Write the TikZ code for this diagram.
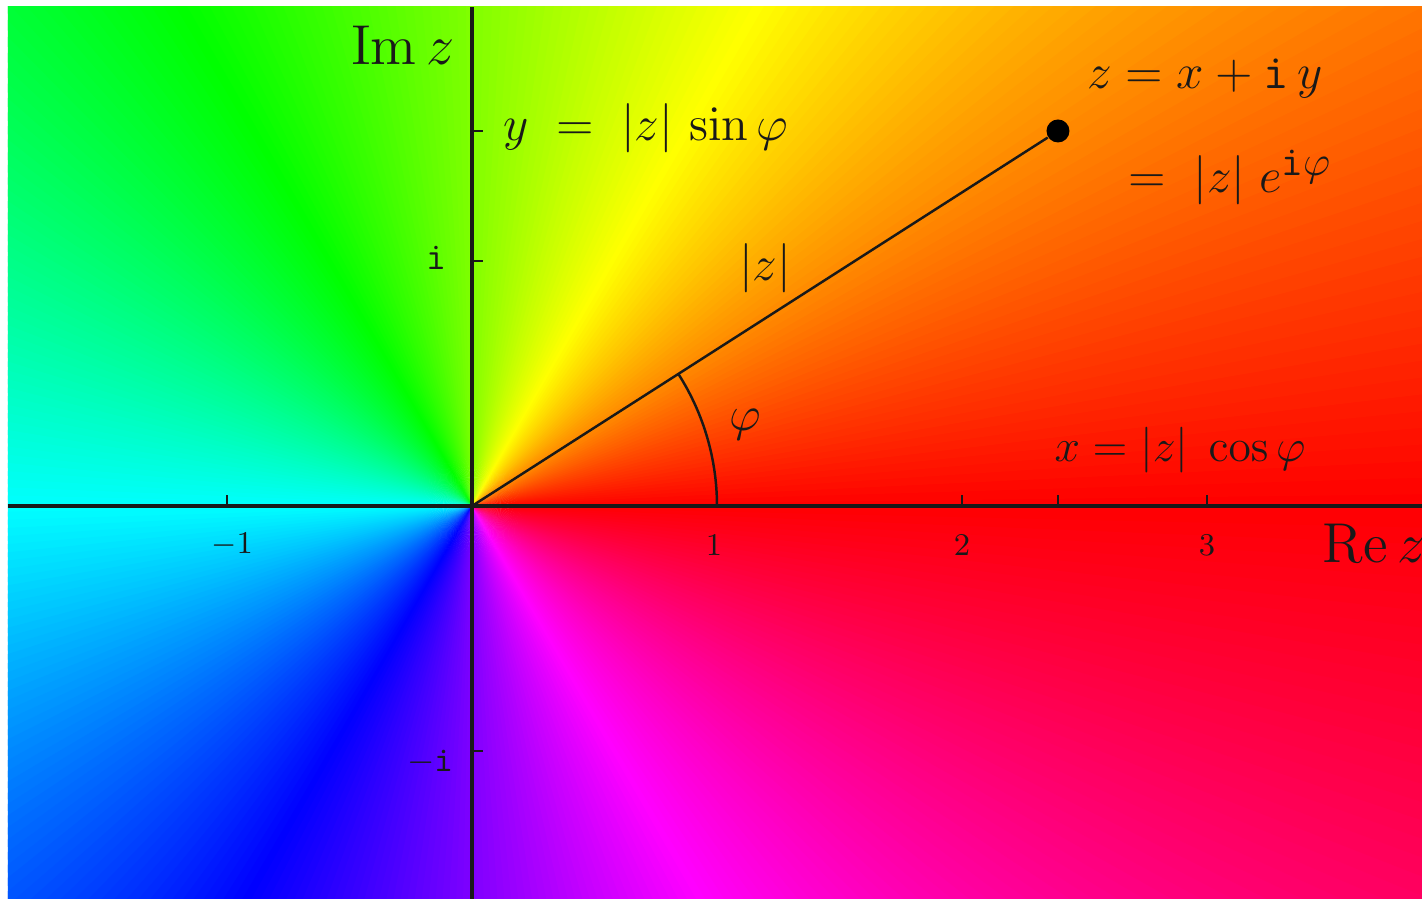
\RequirePackage{fix-cm}
\documentclass[tikz,border=0pt]{standalone}
\usepackage{xcolor}
\usepackage{tikz}
\usetikzlibrary{positioning, calc}
\usepackage{amsmath}
\definecolor{axisblack}{RGB}{25, 25, 25}

\begin{document}
\begin{tikzpicture}[
    axis/.style={line width=1.1pt, axisblack},
    vec/.style={line width=0.7pt, axisblack},
    tickmark/.style={line width=0.6pt, axisblack},
    dot/.style={circle, fill=black, inner sep=0pt, minimum size=2.3mm},
    biglbl/.style={font=\fontsize{16}{18}\selectfont, text=axisblack, inner sep=0pt},
    eqlbl/.style={font=\fontsize{14}{16}\selectfont, text=axisblack, inner sep=0pt},
    ticklbl/.style={font=\fontsize{9}{11}\selectfont, text=axisblack, inner sep=0pt},
]

\useasboundingbox (-4.72,-3.93) rectangle (9.50,5.06);

% hue wheel: colour follows the argument
\begin{scope}
\clip (-4.64,-3.93) rectangle (9.50,4.99);
\foreach \a in {0,...,359}{
    \definecolor{wedge}{Hsb}{\a,1,1}
    \fill[wedge] (0,0) -- (\a-0.3:16) -- (\a+1.3:16) -- cycle;
}
\end{scope}

% axes
\coordinate (O) at (0,0);
\coordinate (xl) at (-4.64,0);
\coordinate (xr) at (9.50,0);
\coordinate (yb) at (0,-3.93);
\coordinate (yt) at (0,4.99);
\draw[axis] (xl) -- (xr);
\draw[axis] (yb) -- (yt);

% ticks
\foreach \x in {-2.45,2.45,4.90,5.86,7.35}
    \draw[tickmark] (\x,0) -- ++(0,0.11);
\foreach \y in {-2.45,2.45,3.75}
    \draw[tickmark] (0,\y) -- ++(0.11,0);

\node[ticklbl] (lm1) at (-2.40,-0.39) {$-1$};
\node[ticklbl] (l1) at (2.42,-0.39) {$1$};
\node[ticklbl] (l2) at (4.90,-0.39) {$2$};
\node[ticklbl] (l3) at (7.35,-0.39) {$3$};
\node[ticklbl, font=\fontsize{11}{13}\selectfont] (li) at (-0.36,2.48) {\texttt{i}};
\node[ticklbl, font=\fontsize{10}{12}\selectfont] (lmi) at (-0.42,-2.56) {$-$\texttt{i}};

\node[biglbl, anchor=east] (imz) at (-0.17,4.61) {$\mathrm{Im}\,z$};
\node[biglbl, anchor=west] (rez) at (8.50,-0.37) {$\mathrm{Re}\,z$};

% the point z
\node[dot] (z) at (5.86,3.75) {};
\draw[vec] (O) -- (z);
\draw[vec] (2.45,0) arc[start angle=0, end angle=32.62, radius=2.45];

\node[eqlbl] (abs) at (2.93,2.38) {$|z|$};
\node[eqlbl] (phi) at (2.73,0.81) {$\varphi$};
\node[eqlbl, anchor=west] (ylbl) at (0.31,3.78) {$y \;=\; |z|\,\sin\varphi$};
\node[eqlbl] (zlbl) at (7.33,4.27) {$z = x + \texttt{i}\,y$};
\node[eqlbl, anchor=base west] (polar) at (6.56,3.13) {$=\; |z|\;e^{\mbox{\fontsize{12}{14}\selectfont\texttt{i}$\varphi$}}$};
\node[eqlbl, font=\fontsize{13}{15}\selectfont] (xlbl) at (7.08,0.56) {$x = |z|\;\cos\varphi$};

\end{tikzpicture}
\end{document}
